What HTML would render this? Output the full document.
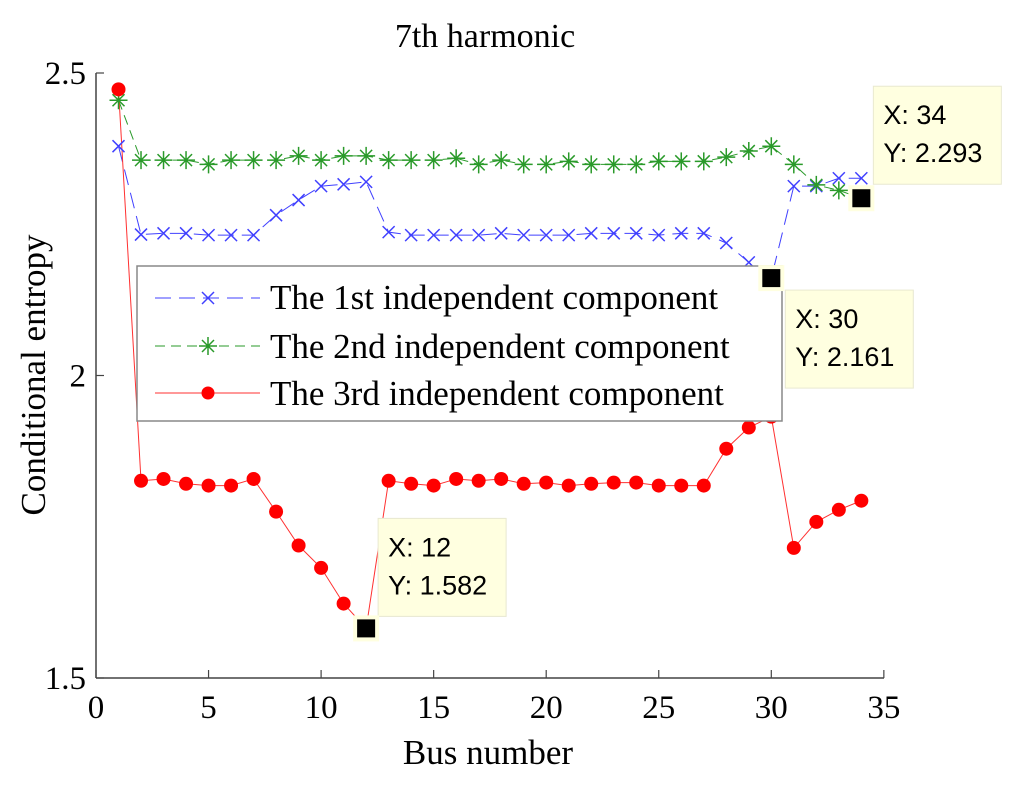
<!DOCTYPE html>
<html><head><meta charset="utf-8"><style>
body{margin:0;background:#fff}
svg{display:block}
text{font-family:"Liberation Serif",serif}
.tip{font-family:"Liberation Sans",sans-serif;font-size:27px}
</style></head><body>
<svg id="chart" width="1024" height="786">
<rect width="1024" height="786" fill="#fff"/>
<text x="485" y="47" font-size="34" text-anchor="middle">7th harmonic</text>
<g id="axes"></g>
<g id="series"></g>
<text x="488" y="764" font-size="35" text-anchor="middle">Bus number</text>
<text transform="translate(45,375) rotate(-90)" font-size="35" text-anchor="middle">Conditional entropy</text>
<g>
<rect x="137" y="266" width="645" height="155" fill="#fff" stroke="#888" stroke-width="1.5"/>
<g>
<line x1="155" y1="298" x2="260" y2="298" stroke="#4040ff" stroke-dasharray="16,8" stroke-width="1"/>
<path d="M202,292 l12,12 M214,292 l-12,12" stroke="#4040ff" stroke-width="1.5"/>
<text x="270" y="309" font-size="35">The 1st independent component</text></g>
<g>
<line x1="155" y1="346" x2="260" y2="346" stroke="#2a9a2a" stroke-dasharray="10,6" stroke-width="1"/>
<path d="M199,346 h18 M208,337 v18 M202,340 l12,12 M214,340 l-12,12" stroke="#2a9a2a" stroke-width="1.5"/>
<text x="270" y="358" font-size="35">The 2nd independent component</text></g>
<g>
<line x1="155" y1="393" x2="260" y2="393" stroke="#ff3030" stroke-width="1"/>
<circle cx="208" cy="393" r="6.5" fill="#ff0000"/>
<text x="270" y="405" font-size="35">The 3rd independent component</text></g>
</g>
<g id="tips"></g>
</svg>
<script>
const buses=[1,2,3,4,5,6,7,8,9,10,11,12,13,14,15,16,17,18,19,20,21,22,23,24,25,26,27,28,29,30,31,32,33,34];
const ic1=[2.379,2.233,2.235,2.235,2.232,2.232,2.232,2.265,2.29,2.313,2.316,2.32,2.237,2.232,2.232,2.232,2.232,2.235,2.232,2.232,2.232,2.235,2.235,2.235,2.232,2.235,2.235,2.219,2.187,2.161,2.313,2.313,2.326,2.326];
const ic2=[2.455,2.356,2.356,2.356,2.349,2.356,2.356,2.356,2.363,2.356,2.363,2.363,2.356,2.356,2.356,2.359,2.349,2.356,2.349,2.349,2.354,2.349,2.349,2.349,2.354,2.354,2.354,2.361,2.371,2.379,2.349,2.315,2.306,2.293];
const ic3=[2.473,1.826,1.829,1.821,1.818,1.818,1.829,1.775,1.719,1.682,1.623,1.582,1.826,1.821,1.818,1.829,1.826,1.829,1.821,1.823,1.818,1.821,1.823,1.823,1.818,1.818,1.818,1.879,1.914,1.932,1.715,1.758,1.778,1.793];
const xTicks=[0,5,10,15,20,25,30,35];
const yTicks=[1.5,2,2.5];
const tipBus=[12,30,34];
const tipVal=[1.582,2.161,2.293];

const X=v=>96+v*22.51;
const Y=v=>678-(v-1.5)*605;
const NS='http://www.w3.org/2000/svg';
function mk(tag,attrs,parent){const e=document.createElementNS(NS,tag);for(const k in attrs)e.setAttribute(k,attrs[k]);parent.appendChild(e);return e;}
const axes=document.getElementById('axes');
let a=mk('line',{x1:96,y1:678,x2:884,y2:678,stroke:'#444','stroke-width':1.5},axes);


a=mk('line',{x1:96,y1:73,x2:96,y2:678,stroke:'#444','stroke-width':1.5},axes);


xTicks.forEach(t=>{
 mk('line',{x1:X(t),y1:678,x2:X(t),y2:670,stroke:'#444','stroke-width':1.2},axes);
 const tx=mk('text',{x:X(t),y:718,'font-size':33,'text-anchor':'middle'},axes);tx.textContent=t;
 
 
});
yTicks.forEach(t=>{
 mk('line',{x1:96,y1:Y(t),x2:104,y2:Y(t),stroke:'#444','stroke-width':1.2},axes);
 const tx=mk('text',{x:86,y:Y(t)+11,'font-size':33,'text-anchor':'end'},axes);tx.textContent=t;
 
 
});
const sg=document.getElementById('series');
function pts(arr){return arr.map((v,i)=>X(buses[i])+','+Y(v)).join(' ');}
let l=mk('polyline',{points:pts(ic1),fill:'none',stroke:'#4040ff','stroke-width':1,'stroke-dasharray':'16,8'},sg);


l=mk('polyline',{points:pts(ic2),fill:'none',stroke:'#2a9a2a','stroke-width':1,'stroke-dasharray':'10,6'},sg);


l=mk('polyline',{points:pts(ic3),fill:'none',stroke:'#ff3030','stroke-width':1},sg);


ic1.forEach((v,i)=>{const x=X(buses[i]),y=Y(v);
 const p=mk('path',{d:`M${x-6},${y-6} l12,12 M${x+6},${y-6} l-12,12`,stroke:'#4040ff','stroke-width':1.5},sg);
 
 });
ic2.forEach((v,i)=>{const x=X(buses[i]),y=Y(v);
 const p=mk('path',{d:`M${x-9},${y} h18 M${x},${y-9} v18 M${x-6},${y-6} l12,12 M${x+6},${y-6} l-12,12`,stroke:'#2a9a2a','stroke-width':1.5},sg);
 
 });
ic3.forEach((v,i)=>{
 const c=mk('circle',{cx:X(buses[i]),cy:Y(v),r:7,fill:'#ff0000'},sg);
 
 });
const tips=document.getElementById('tips');
const boxOff=[[12,-110],[14,12],[12,-112]];
tipBus.forEach((b,i)=>{const x=X(b),y=Y(tipVal[i]);
 const g=mk('g',{},tips);
 
 
 const bx=x+boxOff[i][0],by=y+boxOff[i][1];
 mk('rect',{x:bx,y:by,width:128,height:98,fill:'#ffffe0',stroke:'#e8e8d0'},g);
 mk('rect',{x:x-13,y:y-13,width:26,height:26,fill:'#ffffe0'},g);
 mk('rect',{x:x-9,y:y-9,width:18,height:18,fill:'#000'},g);
 let t=mk('text',{x:bx+10,y:by+38,class:'tip'},g);t.textContent='X: '+b;
 t=mk('text',{x:bx+10,y:by+76,class:'tip'},g);t.textContent='Y: '+tipVal[i];
});
</script>
</body></html>
